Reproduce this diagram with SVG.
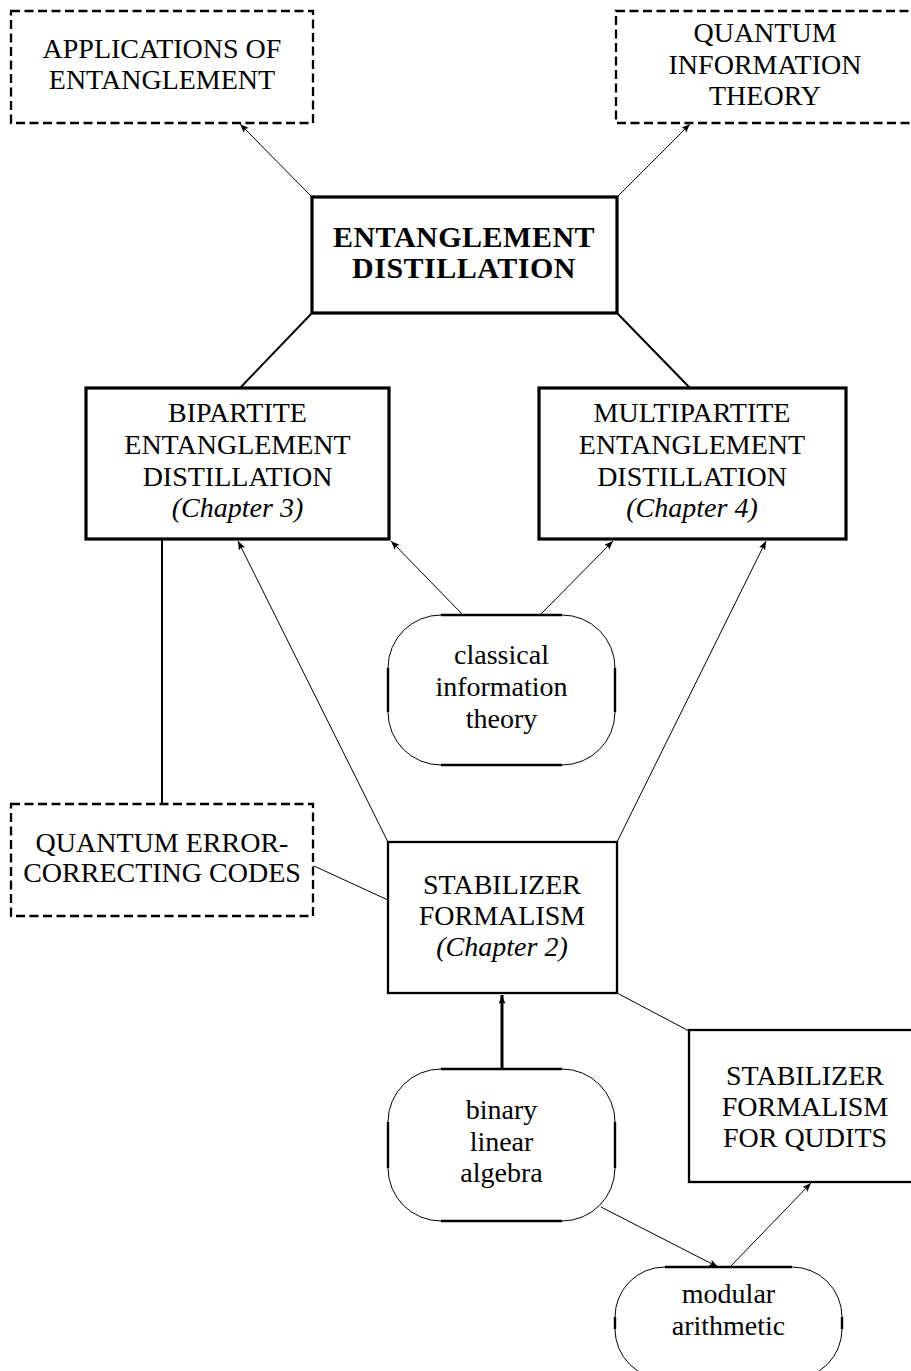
<svg xmlns="http://www.w3.org/2000/svg" width="911" height="1371" viewBox="0 0 911 1371">
  <style>
    .lbl{font-family:'Liberation Serif','Times New Roman',serif;font-size:28px;text-anchor:middle;fill:#000}
    .it{font-style:italic}
    .bold{font-weight:bold;font-size:30px;letter-spacing:0.5px}
    .thick{fill:#fff;stroke:#000;stroke-width:3.2}
    .box{fill:#fff;stroke:#000;stroke-width:2.3}
    .dash{fill:#fff;stroke:#000;stroke-width:2.3;stroke-dasharray:9 4.5}
    .pill{fill:#fff;stroke:#000;stroke-width:1}
    .seg{stroke:#000;stroke-width:2.4;fill:none}
    .c{stroke:#000;stroke-width:1;fill:none}
    .c2{stroke:#000;stroke-width:2;fill:none}
  </style>
  <defs>
    <marker id="ah" markerUnits="userSpaceOnUse" markerWidth="10" markerHeight="8" refX="9" refY="3.5" orient="auto">
      <path d="M0,0 L9,3.5 L0,7 L2,3.5 z" fill="#000"/>
    </marker>
  </defs>

  <!-- nodes -->
  <g id="applications">
    <rect class="dash" x="11" y="11" width="302" height="112"/>
    <text class="lbl" x="162" y="58">APPLICATIONS OF</text>
    <text class="lbl" x="162" y="89">ENTANGLEMENT</text>
  </g>
  <g id="qit">
    <rect class="dash" x="616" y="11" width="300" height="112"/>
    <text class="lbl" x="765" y="42">QUANTUM</text>
    <text class="lbl" x="765" y="74">INFORMATION</text>
    <text class="lbl" x="765" y="105">THEORY</text>
  </g>
  <g id="distillation">
    <rect class="thick" x="312" y="197" width="305" height="116"/>
    <text class="lbl bold" x="464" y="247">ENTANGLEMENT</text>
    <text class="lbl bold" x="464" y="278">DISTILLATION</text>
  </g>
  <g id="bipartite">
    <rect class="thick" x="86" y="388" width="303" height="151"/>
    <text class="lbl" x="237.5" y="422">BIPARTITE</text>
    <text class="lbl" x="237.5" y="454">ENTANGLEMENT</text>
    <text class="lbl" x="237.5" y="486">DISTILLATION</text>
    <text class="lbl it" x="237.5" y="517">(Chapter 3)</text>
  </g>
  <g id="multipartite">
    <rect class="thick" x="539" y="388" width="307" height="151"/>
    <text class="lbl" x="692" y="422">MULTIPARTITE</text>
    <text class="lbl" x="692" y="454">ENTANGLEMENT</text>
    <text class="lbl" x="692" y="486">DISTILLATION</text>
    <text class="lbl it" x="692" y="517">(Chapter 4)</text>
  </g>
  <g id="classical">
    <rect class="pill" x="388" y="615" width="227" height="150" rx="53" ry="53"/>
    <path class="seg" d="M441,615 H562 M441,765 H562 M388,668 V712 M615,668 V712"/>
    <text class="lbl" x="501.5" y="664">classical</text>
    <text class="lbl" x="501.5" y="696">information</text>
    <text class="lbl" x="501.5" y="728">theory</text>
  </g>
  <g id="qecc">
    <rect class="dash" x="11" y="804" width="302" height="112"/>
    <text class="lbl" x="162" y="852">QUANTUM ERROR-</text>
    <text class="lbl" x="162" y="882">CORRECTING CODES</text>
  </g>
  <g id="stabilizer">
    <rect class="box" x="388" y="842" width="229" height="151"/>
    <text class="lbl" x="502" y="894">STABILIZER</text>
    <text class="lbl" x="502" y="925">FORMALISM</text>
    <text class="lbl it" x="502" y="956">(Chapter 2)</text>
  </g>
  <g id="qudits">
    <rect class="box" x="689" y="1030" width="235" height="152"/>
    <text class="lbl" x="805" y="1085">STABILIZER</text>
    <text class="lbl" x="805" y="1116">FORMALISM</text>
    <text class="lbl" x="805" y="1147">FOR QUDITS</text>
  </g>
  <g id="binary">
    <rect class="pill" x="388" y="1069" width="227" height="152" rx="53" ry="53"/>
    <path class="seg" d="M441,1069 H562 M441,1221 H562 M388,1122 V1168 M615,1122 V1168"/>
    <text class="lbl" x="501.5" y="1119">binary</text>
    <text class="lbl" x="501.5" y="1151">linear</text>
    <text class="lbl" x="501.5" y="1182">algebra</text>
  </g>
  <g id="modular">
    <rect class="pill" x="615" y="1267" width="227" height="112" rx="50" ry="50"/>
    <path class="seg" d="M665,1267 H792 M615,1317 V1329 M842,1317 V1329"/>
    <text class="lbl" x="728.5" y="1303">modular</text>
    <text class="lbl" x="728.5" y="1335">arithmetic</text>
  </g>

  <!-- connectors -->
  <g id="connectors">
    <line class="c" x1="312" y1="197" x2="240" y2="124" marker-end="url(#ah)"/>
    <line class="c" x1="617" y1="197" x2="690" y2="124" marker-end="url(#ah)"/>
    <line class="c2" x1="312" y1="313" x2="240" y2="388"/>
    <line class="c2" x1="617" y1="313" x2="690" y2="388"/>
    <line class="c" x1="463" y1="615" x2="391" y2="541" marker-end="url(#ah)"/>
    <line class="c" x1="540" y1="615" x2="613" y2="541" marker-end="url(#ah)"/>
    <line class="c" x1="388" y1="842" x2="238" y2="541" marker-end="url(#ah)"/>
    <line class="c" x1="617" y1="842" x2="766" y2="541" marker-end="url(#ah)"/>
    <line class="c2" x1="162" y1="540" x2="162" y2="804"/>
    <line class="c" x1="314" y1="866" x2="388" y2="900"/>
    <line class="c" x1="617" y1="993" x2="689" y2="1031"/>
    <line stroke="#000" stroke-width="3" x1="502" y1="1069" x2="502" y2="995" marker-end="url(#ah)"/>
    <line class="c" x1="601" y1="1207" x2="718" y2="1267" marker-end="url(#ah)"/>
    <line class="c" x1="730" y1="1267" x2="811" y2="1183" marker-end="url(#ah)"/>
  </g>
</svg>
